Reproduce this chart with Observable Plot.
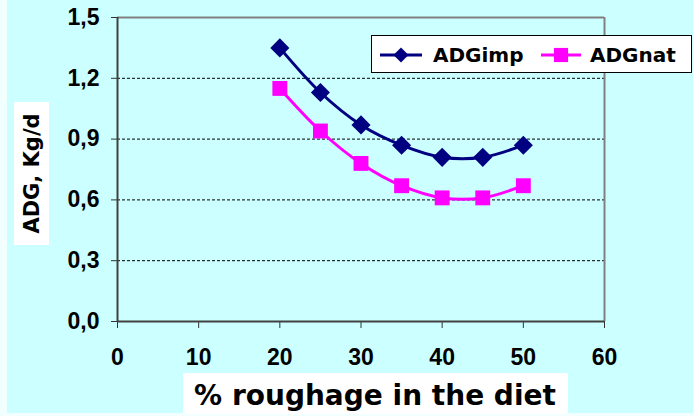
<!DOCTYPE html>
<html>
<head>
<meta charset="utf-8">
<script src="https://cdn.jsdelivr.net/npm/d3@7"></script>
<script src="https://cdn.jsdelivr.net/npm/@observablehq/plot@0.6"></script>
<style>
  html, body { margin: 0; padding: 0; background: #f2ffff; }
  #chart svg { display: block; }
</style>
</head>
<body>
<div id="chart"></div>
<script>
// Average daily gain by roughage share in the diet
const roughage = [20, 25, 30, 35, 40, 45, 50];
const adgImp = [1.35, 1.13, 0.97, 0.87, 0.81, 0.81, 0.87];
const adgNat = [1.15, 0.94, 0.78, 0.67, 0.61, 0.61, 0.67];
const xTicks = [0, 10, 20, 30, 40, 50, 60];
const yTicks = [0, 0.3, 0.6, 0.9, 1.2, 1.5];
const seriesNames = ["ADGimp", "ADGnat"];
const seriesColors = ["#000080", "#ff00ff"];
const seriesSymbols = ["diamond2", "square"];

const rows = [
  ...roughage.map((x, i) => ({x, y: adgImp[i], s: seriesNames[0]})),
  ...roughage.map((x, i) => ({x, y: adgNat[i], s: seriesNames[1]}))
];

const W = 693, H = 416;
const commaFmt = d => d.toFixed(1).replace(".", ",");

const chart = Plot.plot({
  width: W,
  height: H,
  marginLeft: 117,
  marginRight: 89,
  marginTop: 17,
  marginBottom: 95,
  style: {
    fontFamily: "'Liberation Sans', Arial, sans-serif",
    fontWeight: "bold",
    fontSize: "23px",
    color: "black",
    background: "transparent",
    overflow: "visible"
  },
  x: {domain: [0, 60]},
  y: {domain: [0, 1.5]},
  color: {domain: seriesNames, range: seriesColors},
  symbol: {domain: seriesNames, range: seriesSymbols},
  marks: [
    Plot.gridY(yTicks.filter(v => v > 0 && v < 1.5), {
      stroke: "black", strokeOpacity: 1, strokeDasharray: "3,2", strokeWidth: 1
    }),
    Plot.ruleY([1.5], {stroke: "#808080", strokeWidth: 2}),
    Plot.ruleX([60], {stroke: "#808080", strokeWidth: 2}),
    Plot.axisY({
      ticks: yTicks, tickFormat: commaFmt, tickSize: 6, tickPadding: 12,
      label: null, stroke: "#333", fill: "black", style: {letterSpacing: "-0.3px"}
    }),
    Plot.axisX({
      ticks: xTicks, tickFormat: d => String(d), tickSize: 7, tickPadding: 20,
      label: null, stroke: "#333", fill: "black", style: {letterSpacing: "-0.5px"}
    }),
    Plot.ruleX([0], {stroke: "#404040", strokeWidth: 2}),
    Plot.ruleY([0], {stroke: "#404040", strokeWidth: 2}),
    Plot.line(rows, {
      x: "x", y: "y", z: "s", stroke: "s", strokeWidth: 3, curve: "catmull-rom"
    }),
    Plot.dot(rows.filter(d => d.s === seriesNames[0]), {
      x: "x", y: "y", symbol: "s", fill: "s", r: 8.6, stroke: null
    }),
    Plot.dot(rows.filter(d => d.s === seriesNames[1]), {
      x: "x", y: "y", symbol: "s", fill: "s", r: 8.4, stroke: null
    })
  ]
});

document.getElementById("chart").appendChild(chart);

const svg = d3.select(chart);
// cyan chart area behind everything
svg.insert("rect", ":first-child")
  .attr("x", 7).attr("y", 0).attr("width", W - 7).attr("height", H - 3)
  .attr("fill", "#ccffff");

const titleFont = "'DejaVu Sans', Verdana, sans-serif";

// y-axis title on a white box
const yl = svg.append("g");
yl.append("rect").attr("x", 14).attr("y", 102).attr("width", 35).attr("height", 143).attr("fill", "white");
yl.append("text")
  .attr("transform", "translate(32,173.5) rotate(-90)")
  .attr("text-anchor", "middle").attr("dominant-baseline", "central")
  .attr("font-family", titleFont).attr("font-weight", "bold").attr("font-size", 21)
  .attr("fill", "black").text("ADG, Kg/d");

// x-axis title on a white box
const xl = svg.append("g");
xl.append("rect").attr("x", 183).attr("y", 373).attr("width", 385).attr("height", 41).attr("fill", "white");
xl.append("text")
  .attr("x", 375).attr("y", 405).attr("text-anchor", "middle")
  .attr("font-family", titleFont).attr("font-weight", "bold").attr("font-size", 28)
  .attr("fill", "black").text("% roughage in the diet");

// legend
const leg = svg.append("g");
leg.append("rect").attr("x", 371.5).attr("y", 35.5).attr("width", 320).attr("height", 37)
  .attr("fill", "white").attr("stroke", "black").attr("stroke-width", 1);
const legItems = [
  {x0: 380, x1: 422, tx: 433, sym: d3.symbolDiamond2, size: 145},
  {x0: 541, x1: 581, tx: 590, sym: d3.symbolSquare, size: 200}
];
legItems.forEach((it, i) => {
  const cy = 55;
  leg.append("line").attr("x1", it.x0).attr("x2", it.x1).attr("y1", cy).attr("y2", cy)
    .attr("stroke", seriesColors[i]).attr("stroke-width", 3);
  leg.append("path").attr("d", d3.symbol(it.sym, it.size)())
    .attr("transform", `translate(${(it.x0 + it.x1) / 2},${cy})`)
    .attr("fill", seriesColors[i]);
  leg.append("text").attr("x", it.tx).attr("y", 62).attr("text-anchor", "start")
    .attr("font-family", titleFont).attr("font-weight", "bold").attr("font-size", 20)
    .attr("fill", "black").text(seriesNames[i]);
});
</script>
</body>
</html>
